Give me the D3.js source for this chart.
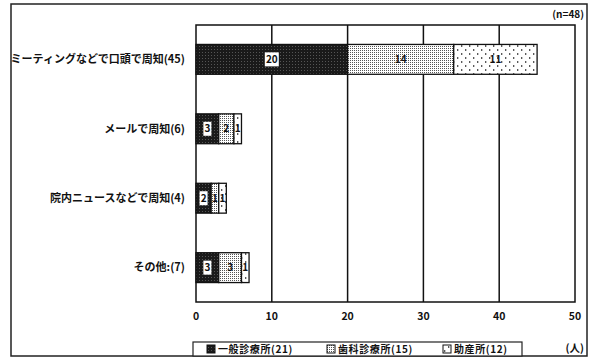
<!DOCTYPE html>
<html><head><meta charset="utf-8">
<script src="https://cdn.jsdelivr.net/npm/d3@7"></script>
<style>body{margin:0;background:#fff}svg{display:block}text{font-family:"Noto Sans CJK JP","Noto Sans",sans-serif;font-weight:bold;fill:#111}</style>
</head><body><svg id="c" width="600" height="360"></svg>
<script>
const categories = ["ミーティングなどで口頭で周知(45)", "メールで周知(6)", "院内ニュースなどで周知(4)", "その他:(7)"];
const seriesNames = ["一般診療所(21)", "歯科診療所(15)", "助産所(12)"];
const general = [20, 3, 2, 3];
const dental = [14, 2, 1, 3];
const midwife = [11, 1, 1, 1];
const xTicks = [0, 10, 20, 30, 40, 50];
const nLabel = "(n=48)";
const unitLabel = "(人)";

(function(){
const svg = d3.select("#c");
const defs = svg.append("defs");
const p1 = defs.append("pattern").attr("id","p1").attr("width",3).attr("height",3).attr("patternUnits","userSpaceOnUse");
p1.append("rect").attr("width",3).attr("height",3).attr("fill","#1a1a1a");
p1.append("rect").attr("x",1).attr("y",1).attr("width",1).attr("height",1).attr("fill","#555");
const p2 = defs.append("pattern").attr("id","p2").attr("width",2).attr("height",2).attr("patternUnits","userSpaceOnUse");
p2.append("rect").attr("width",2).attr("height",2).attr("fill","#fff");
p2.append("rect").attr("x",0).attr("y",0).attr("width",1).attr("height",1).attr("fill","#555");
const p3 = defs.append("pattern").attr("id","p3").attr("width",8).attr("height",8).attr("patternUnits","userSpaceOnUse");
p3.append("rect").attr("width",8).attr("height",8).attr("fill","#fff");
p3.append("path").attr("d","M1 1 l2 1 l-2 1 Z M5 5 l2 1 l-2 1 Z").attr("fill","#222");
const fills = ["url(#p1)","url(#p2)","url(#p3)"];

svg.append("rect").attr("x",11).attr("y",4).attr("width",576).attr("height",352).attr("fill","none").attr("stroke","#222").attr("stroke-width",1.5);

const pl = 196, pr = 575, pt = 25, pb = 302;
const x = d3.scaleLinear().domain([0,50]).range([pl,pr]);
const y = d3.scaleBand().domain(categories).range([pt,pb]).paddingInner(0.57).paddingOuter(0.28);

const g = svg.append("g");
g.selectAll("line.grid").data(xTicks.filter(t=>t>0 && t<50)).join("line")
 .attr("x1",d=>x(d)).attr("x2",d=>x(d)).attr("y1",pt).attr("y2",pb).attr("stroke","#111").attr("stroke-width",1.5);
g.append("rect").attr("x",pl).attr("y",pt).attr("width",pr-pl).attr("height",pb-pt).attr("fill","none").attr("stroke","#111").attr("stroke-width",1.5);

const rows = categories.map((c,i)=>({cat:c, vals:[general[i],dental[i],midwife[i]]}));
const segs = [];
rows.forEach(r=>{let acc=0; r.vals.forEach((v,k)=>{segs.push({cat:r.cat,k,v,x0:acc,x1:acc+v}); acc+=v;});});
svg.append("g").selectAll("rect").data(segs).join("rect")
 .attr("x",d=>x(d.x0)).attr("y",d=>y(d.cat)).attr("width",d=>x(d.x1)-x(d.x0)).attr("height",y.bandwidth())
 .attr("fill",d=>fills[d.k]).attr("stroke","#111").attr("stroke-width",1.3);

const lab = svg.append("g").selectAll("g").data(segs).join("g")
 .attr("transform",d=>`translate(${(x(d.x0)+x(d.x1))/2},${y(d.cat)+y.bandwidth()/2})`);
lab.filter(d=>d.k===0).append("rect").attr("x",d=>d.v>=10?-7:-4).attr("y",-7).attr("width",d=>d.v>=10?14:8).attr("height",14).attr("fill","#fff");
lab.append("text").attr("text-anchor","middle").attr("dy","0.35em").attr("font-size",10).text(d=>d.v);

svg.append("g").selectAll("text").data(categories).join("text")
 .attr("x",185).attr("y",d=>y(d)+y.bandwidth()/2).attr("dy","0.35em").attr("text-anchor","end").attr("font-size",11).text(d=>d);

svg.append("g").selectAll("text").data(xTicks).join("text")
 .attr("x",d=>x(d)).attr("y",320).attr("text-anchor","middle").attr("font-size",10.5).text(d=>d);

svg.append("text").attr("x",584).attr("y",18).attr("text-anchor","end").attr("font-size",10).text(nLabel);
svg.append("text").attr("x",584).attr("y",352).attr("text-anchor","end").attr("font-size",10.5).text(unitLabel);

svg.append("rect").attr("x",193).attr("y",342).attr("width",329).attr("height",14).attr("fill","#fff").attr("stroke","#222").attr("stroke-width",1.2);
const legX = [207, 327, 443];
const lg = svg.append("g").selectAll("g").data(seriesNames).join("g").attr("transform",(d,i)=>`translate(${legX[i]},349)`);
lg.append("rect").attr("x",0).attr("y",-4).attr("width",8).attr("height",8).attr("fill",(d,i)=>fills[i]).attr("stroke","#111").attr("stroke-width",1);
lg.append("text").attr("x",11).attr("dy","0.35em").attr("font-size",10).attr("letter-spacing","0.6px").text(d=>d);
})();
</script></body></html>
